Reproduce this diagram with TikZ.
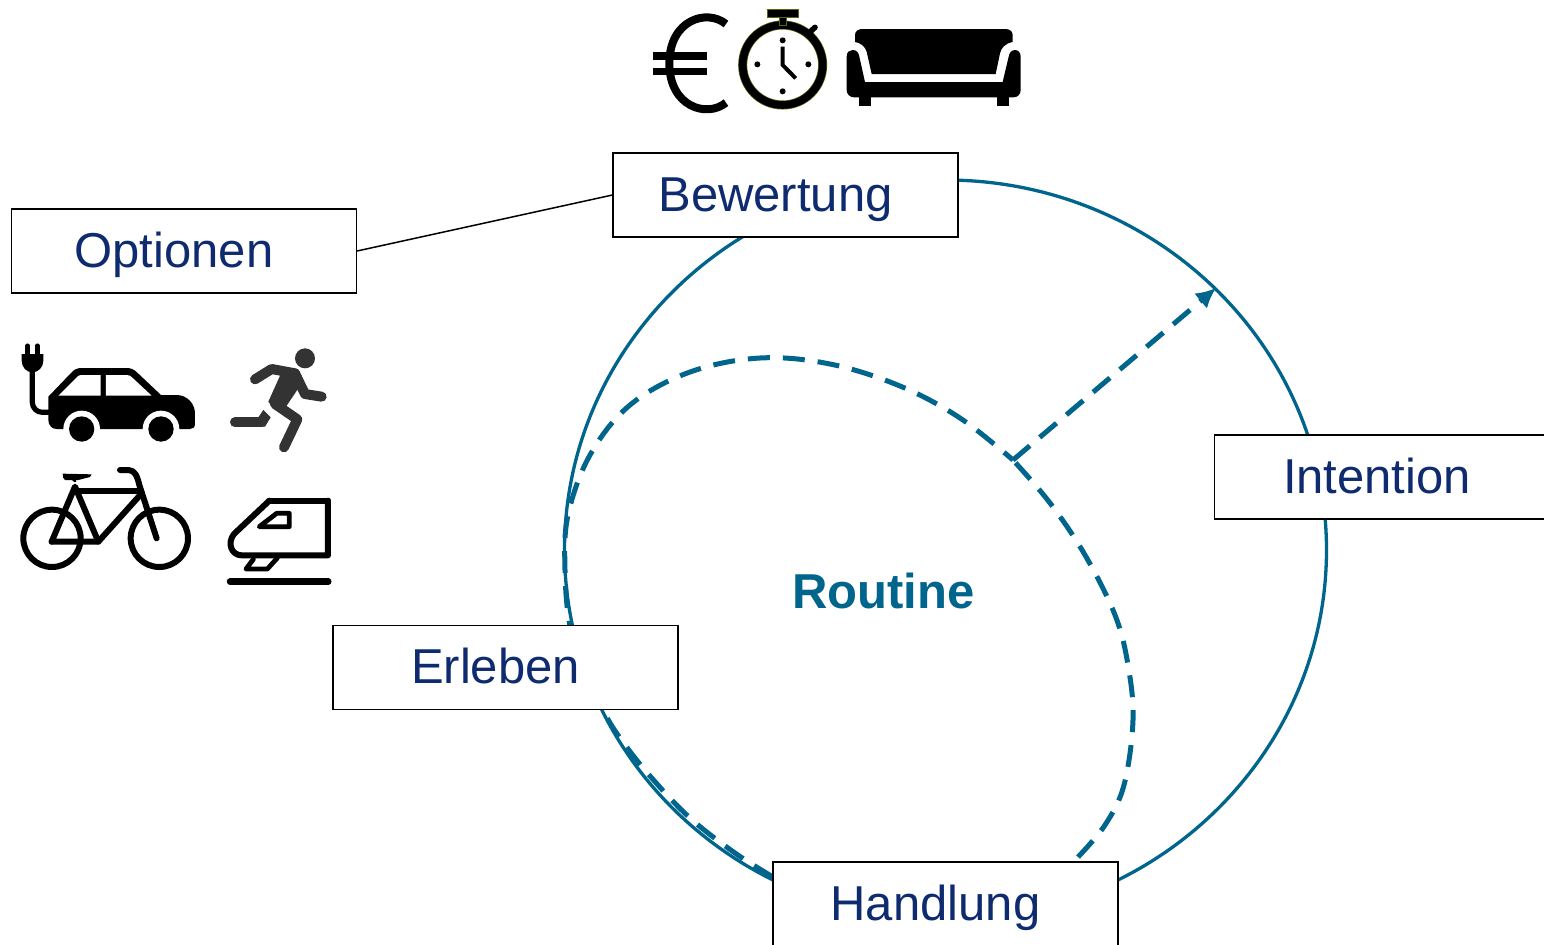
\documentclass[tikz,border=0pt]{standalone}
\usepackage{fontspec}
\setmainfont{Liberation Sans}
\usetikzlibrary{arrows.meta}
\definecolor{teal1}{HTML}{00658C}
\definecolor{navy1}{HTML}{0F2B70}
\definecolor{olive1}{HTML}{5A6410}
\definecolor{run1}{HTML}{333333}
\tikzset{
  box/.style={draw=black,fill=white,line width=0.75pt,minimum width=172.3pt,minimum height=41.8pt,inner sep=0pt,text height=16pt,text depth=0pt,text=navy1,font=\fontsize{24.5}{28}\selectfont,anchor=center},
  ring/.style={draw=teal1,line width=1.65pt},
  dashline/.style={draw=teal1,line width=2.5pt,dash pattern=on 11pt off 6.5pt},
  zoomA/.style={shift={(640,0)},xscale=1/3,yscale=1/3},
  zoomB/.style={shift={(0,330)},xscale=1/3,yscale=1/3},
  stroke/.style={line cap=round,line join=round}
}
\newcommand{\boxtext}[1]{#1\hspace{10pt}\null}
\begin{document}
\begin{tikzpicture}[x=0.5pt,y=-0.5pt]
\useasboundingbox (0,0) rectangle (1544,944);
\fill[white] (0,0) rectangle (1544,944);
% ring and dashed routine
\draw[ring] (945.5,550) ellipse [x radius=381,y radius=370];
\draw[dashline] plot[smooth,tension=0.6] coordinates {(773,877)(735,853)(690,818)(650,776)(620,738)(603,710)(585,670)(570,626)(565,570)(568,515)(590,455)(630,405)(690,372)(760,358)(830,364)(900,386)(960,418)(1013,460)};
\draw[dashline] plot[smooth,tension=0.6] coordinates {(1078,857)(1105,825)(1124,785)(1133,720)(1128,665)(1115,615)(1085,555)(1050,503)(1013,460)};
\coordinate (fork) at (1013,460);
\coordinate (ringpt) at (1216,288);
\draw[dashline,-{Latex[length=10pt,width=10pt]}] (fork) -- (ringpt);
% boxes
\node[box] (opt) at (184,251) {\boxtext{Optionen}};
\node[box] (bew) at (785.5,195) {\boxtext{Bewertung}};
\node[box] (int) at (1387,477) {\boxtext{Intention}};
\node[box] (erl) at (505.5,667.5) {\boxtext{Erleben}};
\node[box] (han) at (945.5,904) {\boxtext{Handlung}};
\draw[black,line width=0.75pt] (opt.east) -- (bew.west);
\node[text=teal1,font=\fontsize{24.5}{28}\selectfont\bfseries] (rou) at (883.5,591) {Routine};
% top icons
\begin{scope}[zoomA]
  % euro
  \draw[black,line width=4pt] (258,72) .. controls (200,25) and (88,60) .. (88,190) .. controls (88,320) and (200,355) .. (258,308);
  \fill[black] (40,157) rectangle (200,179);
  \fill[black] (40,203) rectangle (200,225);
  % stopwatch
  \draw[olive1,line width=4.5pt] (428,195) circle [radius=120];
  \draw[black,line width=3.8pt] (428,195) circle [radius=120];
  \fill[black,draw=olive1,line width=0.3pt] (381,29) rectangle (474,52);
  \fill[black,draw=olive1,line width=0.3pt] (418,52) rectangle (438,75);
  \draw[black,line width=2.8pt,line cap=round] (508,98) -- (525,82);
  \foreach \p in {(428,121),(428,274),(352,193),(505,193)} \fill[black] \p circle [radius=9];
  \draw[black,line width=2pt,line join=miter] (428,140) -- (428,195) -- (467,235);
  % sofa
  \fill[black] (645,105) .. controls (645,93) and (655,87) .. (667,87) -- (1096,87) .. controls (1108,87) and (1118,93) .. (1118,105) -- (1118,126) .. controls (1095,130) and (1083,145) .. (1080,160) -- (1067,222) -- (695,222) -- (680,155) .. controls (675,138) and (660,128) .. (645,126) -- cycle;
  \fill[black] (620,170) .. controls (620,155) and (630,150) .. (638,150) .. controls (650,150) and (656,158) .. (658,170) -- (675,246) -- (1088,246) -- (1106,170) .. controls (1108,158) and (1115,150) .. (1125,150) .. controls (1135,150) and (1142,158) .. (1142,170) -- (1142,270) .. controls (1142,283) and (1133,292) .. (1120,292) -- (642,292) .. controls (630,292) and (620,283) .. (620,270) -- cycle;
  \fill[black] (656,290) rectangle (692,317);
  \fill[black] (1071,290) rectangle (1107,317);
\end{scope}
% left icons
\begin{scope}[zoomB]
  % car
  \fill[black] (145,200) -- (212,130) .. controls (222,118) and (232,114) .. (245,114) -- (380,114) .. controls (392,114) and (402,118) .. (412,128) -- (483,195) -- (530,195) .. controls (562,195) and (585,222) .. (585,250) -- (585,282) .. controls (585,292) and (578,297) .. (570,297) -- (170,297) .. controls (155,297) and (145,285) .. (145,270) -- cycle;
  \fill[white] (245,297) circle [radius=55];
  \fill[white] (483,297) circle [radius=55];
  \fill[white] (180,300) rectangle (300,340);
  \fill[white] (425,300) rectangle (545,340);
  \fill[black] (245,297) circle [radius=38];
  \fill[black] (483,297) circle [radius=38];
  \fill[white] (175,197) -- (230,142) .. controls (234,137) and (238,135) .. (245,135) -- (302,135) -- (302,197) -- cycle;
  \fill[white] (318,135) -- (380,135) .. controls (388,135) and (392,138) .. (396,142) -- (455,197) -- (318,197) -- cycle;
  \draw[black,line width=2.2pt,line cap=round] (83,47) -- (83,75);
  \draw[black,line width=2.2pt,line cap=round] (112,47) -- (112,75);
  \fill[black] (65,72) -- (130,72) -- (130,92) .. controls (130,112) and (115,127) .. (97,127) .. controls (80,127) and (65,112) .. (65,92) -- cycle;
  \draw[black,line width=2.6pt,rounded corners=5pt] (97,120) -- (97,247) -- (150,247);
  % runner
  \fill[run1] (915,85) circle [radius=30];
  \begin{scope}[draw=run1,line width=5pt,stroke]
    \draw (765,148) -- (815,117) -- (885,130) -- (915,192) -- (965,200);
    \draw (885,130) -- (825,222) -- (892,268) -- (852,352);
    \draw (705,277) -- (785,277);
  \end{scope}
  \fill[run1] (850,115) -- (905,135) -- (895,175) -- (858,230) -- (825,240) -- (805,215) -- cycle;
  \fill[run1] (790,240) -- (812,262) -- (795,290) -- (770,290) -- (775,262) -- cycle;
  % bike
  \begin{scope}[draw=black,line width=3pt,stroke]
    \draw (156,625) circle [radius=86];
    \draw (478,625) circle [radius=86];
    \draw (155,635) -- (295,635) -- (425,490);
    \draw (238,482) -- (420,482);
    \draw (155,635) -- (225,470) -- (295,635);
    \draw (360,420) -- (385,420) .. controls (405,420) and (412,440) .. (418,465) -- (470,625);
  \end{scope}
  \draw[black,line width=1.6pt,line cap=round] (225,452) -- (218,445);
  \fill[black] (188,431) -- (275,433) -- (270,441) -- (235,450) -- (195,450) .. controls (190,448) and (188,440) .. (188,431) -- cycle;
  % train
  \begin{scope}[draw=black,line width=3pt,stroke]
    \draw[line width=3pt,rounded corners=6pt] (984,512) -- (808,512);
    \draw (984,512) -- (984,676) -- (725,676) .. controls (695,676) and (680,640) .. (702,612) -- (808,512);
    \draw[line width=2.4pt] (830,550) -- (868,550) -- (868,590) -- (778,590) -- cycle;
    \draw[line width=2.4pt] (760,688) -- (738,717) -- (802,717) -- (832,684);
    \draw[line width=3.2pt] (690,755) -- (985,755);
  \end{scope}
\end{scope}
\end{tikzpicture}
\end{document}
